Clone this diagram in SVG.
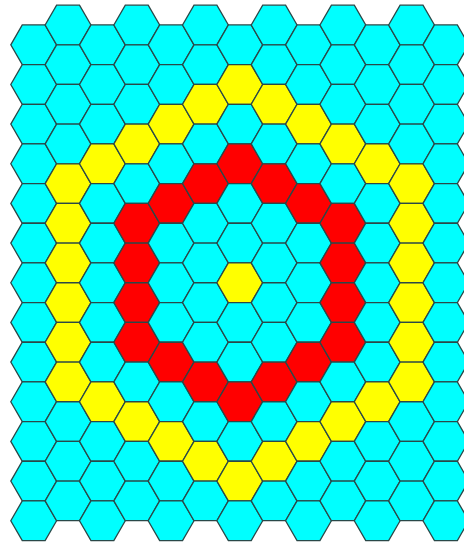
<svg xmlns="http://www.w3.org/2000/svg" xmlns:xlink="http://www.w3.org/1999/xlink" width="464" height="544" viewBox="0 0 464 544">
<style>
.col{fill:#00ffff;stroke:#2a4848;stroke-width:1.3}
.y{fill:#ffff00}
.r{fill:#ff0000}
</style>
<defs>
<polygon id="h" points="22.9,0 11.45,19.83 -11.45,19.83 -22.9,0 -11.45,-19.83 11.45,-19.83"/>
</defs>
<rect width="464" height="544" fill="#ffffff"/>
<g id="c0" class="col" transform="translate(33.7,44.8)">
<use href="#h" y="0"/><use href="#h" y="39.66"/><use href="#h" y="79.32"/><use href="#h" y="118.98"/><use href="#h" y="158.64"/><use href="#h" y="198.3"/><use href="#h" y="237.96"/><use href="#h" y="277.62"/><use href="#h" y="317.28"/><use href="#h" y="356.94"/><use href="#h" y="396.6"/><use href="#h" y="436.26"/><use href="#h" y="475.92"/>
</g>
<g id="c1" class="col" transform="translate(68.05,24.97)">
<use href="#h" y="0"/><use href="#h" y="39.66"/><use href="#h" y="79.32"/><use href="#h" y="118.98"/><use href="#h" y="158.64" class="y"/><use href="#h" y="198.3" class="y"/><use href="#h" y="237.96" class="y"/><use href="#h" y="277.62" class="y"/><use href="#h" y="317.28" class="y"/><use href="#h" y="356.94" class="y"/><use href="#h" y="396.6"/><use href="#h" y="436.26"/><use href="#h" y="475.92"/>
</g>
<g id="c2" class="col" transform="translate(102.4,44.8)">
<use href="#h" y="0"/><use href="#h" y="39.66"/><use href="#h" y="79.32"/><use href="#h" y="118.98" class="y"/><use href="#h" y="158.64"/><use href="#h" y="198.3"/><use href="#h" y="237.96"/><use href="#h" y="277.62"/><use href="#h" y="317.28"/><use href="#h" y="356.94" class="y"/><use href="#h" y="396.6"/><use href="#h" y="436.26"/><use href="#h" y="475.92"/>
</g>
<g id="c3" class="col" transform="translate(136.75,24.97)">
<use href="#h" y="0"/><use href="#h" y="39.66"/><use href="#h" y="79.32"/><use href="#h" y="118.98" class="y"/><use href="#h" y="158.64"/><use href="#h" y="198.3" class="r"/><use href="#h" y="237.96" class="r"/><use href="#h" y="277.62" class="r"/><use href="#h" y="317.28" class="r"/><use href="#h" y="356.94"/><use href="#h" y="396.6" class="y"/><use href="#h" y="436.26"/><use href="#h" y="475.92"/>
</g>
<g id="c4" class="col" transform="translate(171.1,44.8)">
<use href="#h" y="0"/><use href="#h" y="39.66"/><use href="#h" y="79.32" class="y"/><use href="#h" y="118.98"/><use href="#h" y="158.64" class="r"/><use href="#h" y="198.3"/><use href="#h" y="237.96"/><use href="#h" y="277.62"/><use href="#h" y="317.28" class="r"/><use href="#h" y="356.94"/><use href="#h" y="396.6" class="y"/><use href="#h" y="436.26"/><use href="#h" y="475.92"/>
</g>
<g id="c5" class="col" transform="translate(205.45,24.97)">
<use href="#h" y="0"/><use href="#h" y="39.66"/><use href="#h" y="79.32" class="y"/><use href="#h" y="118.98"/><use href="#h" y="158.64" class="r"/><use href="#h" y="198.3"/><use href="#h" y="237.96"/><use href="#h" y="277.62"/><use href="#h" y="317.28"/><use href="#h" y="356.94" class="r"/><use href="#h" y="396.6"/><use href="#h" y="436.26" class="y"/><use href="#h" y="475.92"/>
</g>
<g id="c6" class="col" transform="translate(239.8,44.8)">
<use href="#h" y="0"/><use href="#h" y="39.66" class="y"/><use href="#h" y="79.32"/><use href="#h" y="118.98" class="r"/><use href="#h" y="158.64"/><use href="#h" y="198.3"/><use href="#h" y="237.96" class="y"/><use href="#h" y="277.62"/><use href="#h" y="317.28"/><use href="#h" y="356.94" class="r"/><use href="#h" y="396.6"/><use href="#h" y="436.26" class="y"/><use href="#h" y="475.92"/>
</g>
<g id="c7" class="col" transform="translate(274.15,24.97)">
<use href="#h" y="0"/><use href="#h" y="39.66"/><use href="#h" y="79.32" class="y"/><use href="#h" y="118.98"/><use href="#h" y="158.64" class="r"/><use href="#h" y="198.3"/><use href="#h" y="237.96"/><use href="#h" y="277.62"/><use href="#h" y="317.28"/><use href="#h" y="356.94" class="r"/><use href="#h" y="396.6"/><use href="#h" y="436.26" class="y"/><use href="#h" y="475.92"/>
</g>
<g id="c8" class="col" transform="translate(308.5,44.8)">
<use href="#h" y="0"/><use href="#h" y="39.66"/><use href="#h" y="79.32" class="y"/><use href="#h" y="118.98"/><use href="#h" y="158.64" class="r"/><use href="#h" y="198.3"/><use href="#h" y="237.96"/><use href="#h" y="277.62"/><use href="#h" y="317.28" class="r"/><use href="#h" y="356.94"/><use href="#h" y="396.6" class="y"/><use href="#h" y="436.26"/><use href="#h" y="475.92"/>
</g>
<g id="c9" class="col" transform="translate(342.85,24.97)">
<use href="#h" y="0"/><use href="#h" y="39.66"/><use href="#h" y="79.32"/><use href="#h" y="118.98" class="y"/><use href="#h" y="158.64"/><use href="#h" y="198.3" class="r"/><use href="#h" y="237.96" class="r"/><use href="#h" y="277.62" class="r"/><use href="#h" y="317.28" class="r"/><use href="#h" y="356.94"/><use href="#h" y="396.6" class="y"/><use href="#h" y="436.26"/><use href="#h" y="475.92"/>
</g>
<g id="c10" class="col" transform="translate(377.2,44.8)">
<use href="#h" y="0"/><use href="#h" y="39.66"/><use href="#h" y="79.32"/><use href="#h" y="118.98" class="y"/><use href="#h" y="158.64"/><use href="#h" y="198.3"/><use href="#h" y="237.96"/><use href="#h" y="277.62"/><use href="#h" y="317.28"/><use href="#h" y="356.94" class="y"/><use href="#h" y="396.6"/><use href="#h" y="436.26"/><use href="#h" y="475.92"/>
</g>
<g id="c11" class="col" transform="translate(411.55,24.97)">
<use href="#h" y="0"/><use href="#h" y="39.66"/><use href="#h" y="79.32"/><use href="#h" y="118.98"/><use href="#h" y="158.64" class="y"/><use href="#h" y="198.3" class="y"/><use href="#h" y="237.96" class="y"/><use href="#h" y="277.62" class="y"/><use href="#h" y="317.28" class="y"/><use href="#h" y="356.94" class="y"/><use href="#h" y="396.6"/><use href="#h" y="436.26"/><use href="#h" y="475.92"/>
</g>
<g id="c12" class="col" transform="translate(445.9,44.8)">
<use href="#h" y="0"/><use href="#h" y="39.66"/><use href="#h" y="79.32"/><use href="#h" y="118.98"/><use href="#h" y="158.64"/><use href="#h" y="198.3"/><use href="#h" y="237.96"/><use href="#h" y="277.62"/><use href="#h" y="317.28"/><use href="#h" y="356.94"/><use href="#h" y="396.6"/><use href="#h" y="436.26"/><use href="#h" y="475.92"/>
</g>
</svg>
